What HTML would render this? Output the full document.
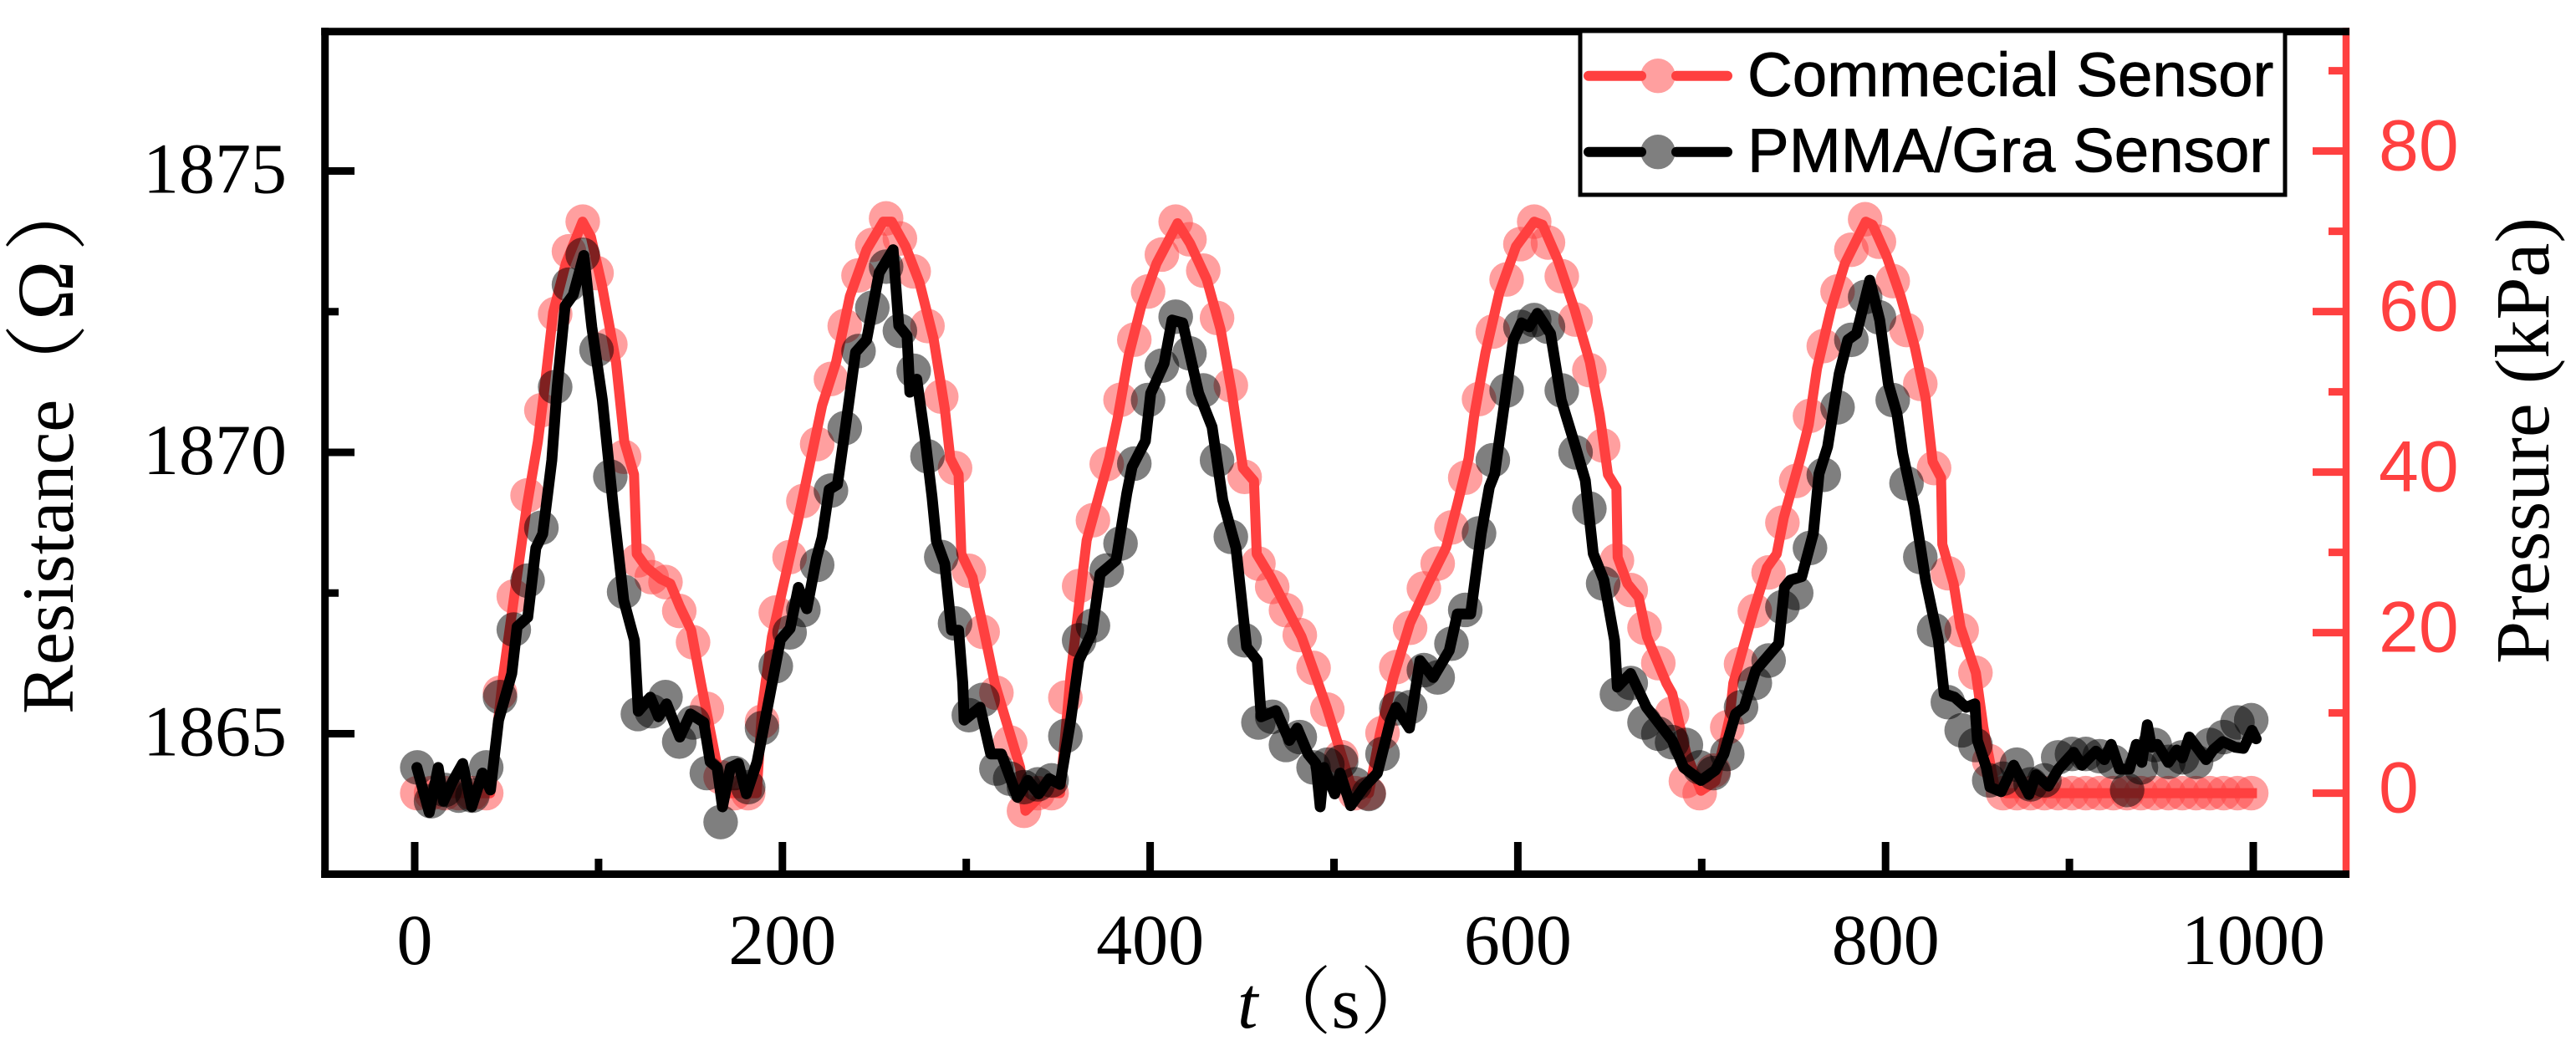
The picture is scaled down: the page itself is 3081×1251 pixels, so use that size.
<!DOCTYPE html>
<html lang="en">
<head>
<meta charset="utf-8">
<title>Resistance and pressure over time</title>
<style>
html,body{margin:0;padding:0;background:#fff;}
svg{display:block;}
</style>
</head>
<body>
<svg id="chart" xmlns="http://www.w3.org/2000/svg" width="3081" height="1251" viewBox="0 0 3081 1251">
<rect x="0" y="0" width="3081" height="1251" fill="#ffffff"/>
<g id="red-layer"></g>
<g id="black-layer"></g>
<g id="axes-layer"></g>
<text transform="translate(87,854) rotate(-90)" font-family="'Liberation Serif','Noto Serif CJK SC',serif" font-size="88" fill="#000"><tspan x="0">Resistance</tspan><tspan x="367" y="5" font-size="100">（</tspan><tspan x="471" y="0" font-size="96">Ω</tspan><tspan x="553" y="5" font-size="100">）</tspan></text>
<text transform="translate(3048,794) rotate(-90)" font-family="'Liberation Serif',serif" font-size="92" fill="#000">Pressure (kPa)</text>
<text x="1480" y="1229" font-family="'Liberation Serif','Noto Serif CJK SC',serif" font-size="88" fill="#000"><tspan font-style="italic">t</tspan><tspan>（s）</tspan></text>
<g>
<rect x="1890" y="37" width="843" height="196" fill="#ffffff" stroke="#000" stroke-width="5"/>
<g>
<line x1="1900" y1="90.7" x2="1963" y2="90.7" stroke="#ff4040" stroke-width="12" stroke-linecap="round"/>
<line x1="2005" y1="90.7" x2="2066" y2="90.7" stroke="#ff4040" stroke-width="12" stroke-linecap="round"/>
<circle cx="1983" cy="90.7" r="20.7" fill="#ff4040" fill-opacity="0.5"/>
<text x="2090" y="115" font-family="'Liberation Sans',sans-serif" font-size="74.5" fill="#000" stroke="#000" stroke-width="0.8">Commecial Sensor</text>
</g>
<g>
<line x1="1900" y1="181.7" x2="1963" y2="181.7" stroke="#000" stroke-width="12" stroke-linecap="round"/>
<line x1="2005" y1="181.7" x2="2066" y2="181.7" stroke="#000" stroke-width="12" stroke-linecap="round"/>
<circle cx="1983" cy="181.7" r="20.7" fill="#000" fill-opacity="0.5"/>
<text x="2090" y="205.5" font-family="'Liberation Sans',sans-serif" font-size="74.5" fill="#000" stroke="#000" stroke-width="0.8">PMMA/Gra Sensor</text>
</g>
</g>
</svg>
<script>
const xTickValues = [0, 200, 400, 600, 800, 1000];
const xMinorTickValues = [100, 300, 500, 700, 900];
const leftTickValues = [1865, 1870, 1875];
const leftMinorTickValues = [1867.5, 1872.5];
const rightTickValues = [0, 20, 40, 60, 80];
const rightMinorTickValues = [10, 30, 50, 70, 90];

const markerFirstTime = 1.4;
const markerTimeStep = 7.5;

const pressureMarkerValues = [
0,0,0,0,0,0,12.5,24.5,37.1,47.7,59.7,67.5,71.2,64.8,55.9,41.9,29,26.9,26.3,22.7,
18.8,10.5,2,0,0,8.9,22.5,29.4,36.4,43.5,51.6,58.2,64.5,68.3,71.6,69.1,65,58.2,49.4,40.5,
27.7,20.1,12.5,6.3,-2.2,0,0,11.9,25.8,34,41,49,56.5,62.5,67.1,71.2,69,65.1,59.2,50.8,
39.4,28.6,25.7,22.8,19.7,15.6,10.4,4.5,0,0,7.5,15.7,20.6,25.5,28.6,33.1,39.3,49.1,57.5,64,
68.4,71.2,68.6,64.4,59,52.7,43.3,29,25.3,20.6,16.2,9.9,1.5,0,2.8,8.2,16.1,22.7,27.5,33.7,
38.9,47,55.7,62.5,67.7,71.5,68.7,63.8,57.7,51,40.5,27.4,20.3,15,4,0,0,0,0,0,
0,0,0,0,0,0,0,0,0,0,0,0,0,0
];

const resistanceMarkerValues = [
1864.4,1863.8,1864,1863.9,1863.9,1864.4,1865.65,1866.85,1867.72,1868.66,1871.16,1872.98,1873.51,1871.82,1869.57,1867.52,1865.35,1865.4,1865.65,1864.86,
1865.2,1864.3,1863.43,1864.3,1864.05,1865.1,1866.2,1866.8,1867.2,1868,1869.32,1870.43,1871.8,1872.57,1873.3,1872.16,1871.45,1869.93,1868.14,1866.96,
1865.33,1865.6,1864.38,1864.2,1864.05,1864.1,1864.17,1864.96,1866.66,1866.92,1867.9,1868.38,1869.8,1870.93,1871.54,1872.41,1871.76,1871.1,1869.86,1868.5,
1866.66,1865.2,1865.3,1864.8,1864.94,1864.4,1864.45,1864.5,1864.1,1863.93,1864.64,1865.45,1865.47,1866.13,1866,1866.6,1867.2,1868.56,1869.86,1871.1,
1872.23,1872.35,1872.23,1871.1,1870,1869,1867.67,1865.7,1865.9,1865.2,1865,1864.85,1864.8,1864.4,1864.3,1864.64,1865.47,1865.9,1866.3,1867.25,
1867.5,1868.3,1869.6,1870.8,1872,1872.76,1872.4,1870.93,1869.45,1868.14,1866.84,1865.56,1865.06,1864.8,1864.17,1864.2,1864.45,1864.1,1864.17,1864.58,
1864.64,1864.64,1864.6,1864.5,1864,1864.4,1864.8,1864.5,1864.58,1864.5,1864.8,1864.94,1865.2,1865.24
];

const pressureLineTimes = [
1.4,41,48.1,54.1,60.9,67,70,75.3,82.2,91.3,95.8,101.9,109.5,114,119.3,120.8,126.1,133.7,139,144.3,150.4,155.7,166,170,186,189,194.3,201.9,208,215.5,221.6,229.2,236.7,245.8,254.9,259.5,267,274.6,282.2,288.3,291.3,295.8,297.3,303.4,311,315.5,329.3,332.2,342.3,351,356.8,365.5,377.7,382.3,388.3,395.2,403.5,414.9,421.7,430.8,438.3,444.4,450.5,456.5,458,465.6,482.3,491.4,496,509,519,525,532.3,541.4,551.2,561,567.1,573.2,576.3,582.4,589.9,599,608.9,613.4,621.8,630.8,639.2,644.5,649,653.6,654.3,659.6,665.7,670.2,680.8,684,691.7,699.6,707.4,715.2,717.2,727.8,735.5,740.8,744.6,753.6,758.2,762.7,770.3,777.9,789.2,793,800.6,808.2,815.8,821.8,825.6,830.2,830.9,837,840.8,849.1,853.2,859.4,865.7,1002
];
const pressureLineValues = [
0,0,14.6,24.5,35.6,43.8,49.2,59.9,66,71.2,69.3,63.2,53.7,43.8,39.7,29.8,28.1,26.7,26.1,23.2,20.3,13.7,1.6,0,0,10.7,19.5,27.3,33.5,41.7,48.3,53.7,61.9,67.7,71.2,71.2,68.1,63.6,56.6,47.9,41.7,39.7,29.8,26.9,18.7,13.7,3.2,-2.2,0.1,0,14.8,31.5,41.7,46.7,54.5,60.7,66,71,68.5,64,57.8,50,40.5,38.9,29.8,26.9,19.5,13.7,10.7,1.1,0,7.4,14.4,21.2,26.1,30.6,36,41.7,47.1,54.9,62.3,68.1,71.2,70.8,66.4,60.3,53.7,47.1,39.7,38,29.4,26.1,24.4,19.5,13.7,12.4,4.9,0.3,1.5,9.4,13.7,22.4,28.1,29.8,34.3,41.7,45.9,52.9,60.3,66,71.2,70.8,66.9,61.9,55.7,49.2,41.3,39.3,31,26.1,20.7,15,8.2,0.7,0,0
];

const resistanceLineTimes = [
1.2,7.9,12.8,15.7,20.9,26.1,31,36.9,41.2,45.6,52.8,55.7,61.5,65.9,69.6,74.6,77.5,81.8,86.2,92,96.3,102.1,108,113.7,119.5,121.6,128.2,132.6,137,144.2,150,157.2,160.7,164.5,167.4,171.7,176.1,180.4,186.2,189.7,195,198.9,204.2,208.7,213.3,218.6,221.6,225.4,229.9,234.5,239.8,245.8,252.6,260.2,263.3,267.8,269.3,273.1,277.6,281.4,283.7,288.3,292,295.8,298.1,298.8,307.5,313.3,319.1,327.8,333.6,339.4,345.2,351,356.8,361.2,368.4,372.8,381.5,387.3,390.2,397.4,400.3,407.6,411.9,417.7,426.4,433.7,439.5,446.7,452.5,458.3,460.4,468.5,475.7,480,485.9,490.2,492.5,494.6,500.4,503.3,509.1,516.3,523.6,530.8,533.7,541,546.8,554,562.7,567.1,574.3,580.1,584.5,587.4,597.5,601.9,606.2,610.6,617.8,623.6,630.9,636.7,641,646.8,652.6,654.1,661.3,670,684,690.2,699.6,707.4,712.1,718.4,723.1,729.4,741.9,745,748.2,754.4,760.7,763.8,768.5,774.8,779.5,784.2,791.4,796.8,801.5,806.2,809.3,815.6,821.8,828.7,831.9,837.5,843.8,848.5,850,854.8,
856.8,862.9,869.7,878,881.8,888.6,894,902.3,906.8,914.4,919,922.7,927.3,932.6,936.4,939.4,942.4,944.7,947.8,953.8,958.4,961.4,965.2,974.3,978.1,983.4,990.2,994.7,999.3,1001.6
];
const resistanceLineValues = [
1864.4,1863.6,1864.4,1863.8,1864.17,1864.47,1863.7,1864.3,1864,1865.24,1866.07,1866.9,1867.07,1868.3,1868.55,1869.86,1871.16,1872.6,1872.8,1873.5,1872.23,1870.93,1869.03,1867.37,1866.66,1865.4,1865.65,1865.3,1865.53,1864.94,1865.35,1865.2,1864.5,1864.4,1863.7,1864.4,1864.47,1863.93,1864.5,1865.1,1866,1866.67,1866.87,1867.6,1867.22,1868.13,1868.49,1869.34,1869.43,1870.5,1871.78,1872,1873.19,1873.6,1872.25,1872.07,1871.07,1871.3,1870.25,1869.2,1868.43,1868.02,1866.84,1866.84,1865.9,1865.24,1865.47,1864.64,1864.64,1863.87,1864.17,1863.93,1864.2,1864.1,1865.24,1866.3,1866.8,1867.84,1868.08,1869.27,1869.74,1870.2,1871.05,1871.58,1872.35,1872.3,1871.05,1870.45,1869.15,1868.3,1866.54,1866.3,1865.3,1865.41,1864.88,1865.1,1864.64,1864.47,1863.7,1864.4,1863.93,1864.3,1863.72,1864.05,1864.3,1865.24,1865.47,1865.1,1866.3,1866,1866.48,1867.13,1867.13,1868.56,1869.38,1869.62,1871.99,1872.3,1872.23,1872.47,1872.11,1870.93,1870.15,1869.5,1868.2,1867.73,1866.66,1865.83,1866.07,1865.47,1864.88,1864.4,1864.17,1864.35,1864.64,1865.35,1865.47,1866.13,1866.6,1867.6,1867.73,1867.79,1868.56,1869.62,1870.1,1871.4,1872,1872.11,1873.06,1872.35,1871.22,1870.69,1869.98,1869.03,1867.73,1866.66,1865.71,1865.65,1865.47,1865.53,1864.88,1864.4,
1864.05,1863.97,1864.44,1863.92,1864.27,1864.07,1864.37,1864.67,1864.44,1864.69,1864.54,1864.81,1864.37,1864.37,1864.81,1864.49,1865.16,1864.76,1864.81,1864.49,1864.71,1864.57,1864.94,1864.54,1864.71,1864.86,1864.76,1864.74,1865.06,1864.91
];

const SVG_NS = 'http://www.w3.org/2000/svg';
const xScale = t => 496 + 2.199 * t;
const yLeft = r => 541 - (r - 1870) * 67.3;
const yRight = p => 948.6 - p * 9.6;

function make(tag, attrs, parent) {
  const el = document.createElementNS(SVG_NS, tag);
  Object.keys(attrs).forEach(k => el.setAttribute(k, attrs[k]));
  parent.appendChild(el);
  return el;
}

function polyPoints(times, values, yFn) {
  return times.map((t, i) => xScale(t).toFixed(1) + ',' + yFn(values[i]).toFixed(1)).join(' ');
}

const redLayer = document.getElementById('red-layer');
const blackLayer = document.getElementById('black-layer');
const axesLayer = document.getElementById('axes-layer');

pressureMarkerValues.forEach((v, i) => {
  const m = make('circle', {cx: xScale(markerFirstTime + i * markerTimeStep), cy: yRight(v), r: 20.7, fill: '#ff4040', 'fill-opacity': 0.5}, redLayer);
  
  
});
const redLine = make('polyline', {points: polyPoints(pressureLineTimes, pressureLineValues, yRight), fill: 'none', stroke: '#ff4040', 'stroke-width': 12, 'stroke-linejoin': 'round', 'stroke-linecap': 'butt'}, redLayer);



resistanceMarkerValues.forEach((v, i) => {
  const m = make('circle', {cx: xScale(markerFirstTime + i * markerTimeStep), cy: yLeft(v), r: 20.7, fill: '#000', 'fill-opacity': 0.5}, blackLayer);
  
  
});
const blackLine = make('polyline', {points: polyPoints(resistanceLineTimes, resistanceLineValues, yLeft), fill: 'none', stroke: '#000', 'stroke-width': 13, 'stroke-linejoin': 'round', 'stroke-linecap': 'round'}, blackLayer);



const frameLeft = 388.7, frameTop = 37.7, frameBottom = 1045.5, frameRight = 2806;

const spineRight = make('line', {x1: frameRight, y1: frameTop - 4.5, x2: frameRight, y2: frameBottom + 4.5, stroke: '#ff4040', 'stroke-width': 8.5}, axesLayer);


const spineTop = make('line', {x1: frameLeft - 4.5, y1: frameTop, x2: frameRight + 4, y2: frameTop, stroke: '#000', 'stroke-width': 9}, axesLayer);


const spineBottom = make('line', {x1: frameLeft - 4.5, y1: frameBottom, x2: frameRight + 4, y2: frameBottom, stroke: '#000', 'stroke-width': 9}, axesLayer);


const spineLeft = make('line', {x1: frameLeft, y1: frameTop - 4.5, x2: frameLeft, y2: frameBottom + 4.5, stroke: '#000', 'stroke-width': 9}, axesLayer);



xTickValues.forEach(v => {
  const t = make('line', {x1: xScale(v), y1: frameBottom, x2: xScale(v), y2: 1007, stroke: '#000', 'stroke-width': 9}, axesLayer);
  
  
  const l = make('text', {x: xScale(v), y: 1153, 'text-anchor': 'middle', 'font-family': "'Liberation Serif',serif", 'font-size': 86, fill: '#000'}, axesLayer);
  
  
  l.textContent = v;
});
xMinorTickValues.forEach(v => {
  const t = make('line', {x1: xScale(v), y1: frameBottom, x2: xScale(v), y2: 1027, stroke: '#000', 'stroke-width': 9}, axesLayer);
  
  
});
leftTickValues.forEach(v => {
  const t = make('line', {x1: frameLeft, y1: yLeft(v), x2: 424, y2: yLeft(v), stroke: '#000', 'stroke-width': 9}, axesLayer);
  
  
  const l = make('text', {x: 257, y: yLeft(v) + 26, 'text-anchor': 'middle', 'font-family': "'Liberation Serif',serif", 'font-size': 86, fill: '#000'}, axesLayer);
  
  
  l.textContent = v;
});
leftMinorTickValues.forEach(v => {
  const t = make('line', {x1: frameLeft, y1: yLeft(v), x2: 405, y2: yLeft(v), stroke: '#000', 'stroke-width': 9}, axesLayer);
  
  
});
rightTickValues.forEach(v => {
  const t = make('line', {x1: frameRight, y1: yRight(v), x2: 2766, y2: yRight(v), stroke: '#ff4040', 'stroke-width': 9}, axesLayer);
  
  
  const l = make('text', {x: 2845, y: yRight(v) + 23, 'font-family': "'Liberation Sans',sans-serif", 'font-size': 86, fill: '#ff4040'}, axesLayer);
  
  
  l.textContent = v;
});
rightMinorTickValues.forEach(v => {
  const t = make('line', {x1: frameRight, y1: yRight(v), x2: 2785, y2: yRight(v), stroke: '#ff4040', 'stroke-width': 9}, axesLayer);
  
  
});
</script>
</body>
</html>
